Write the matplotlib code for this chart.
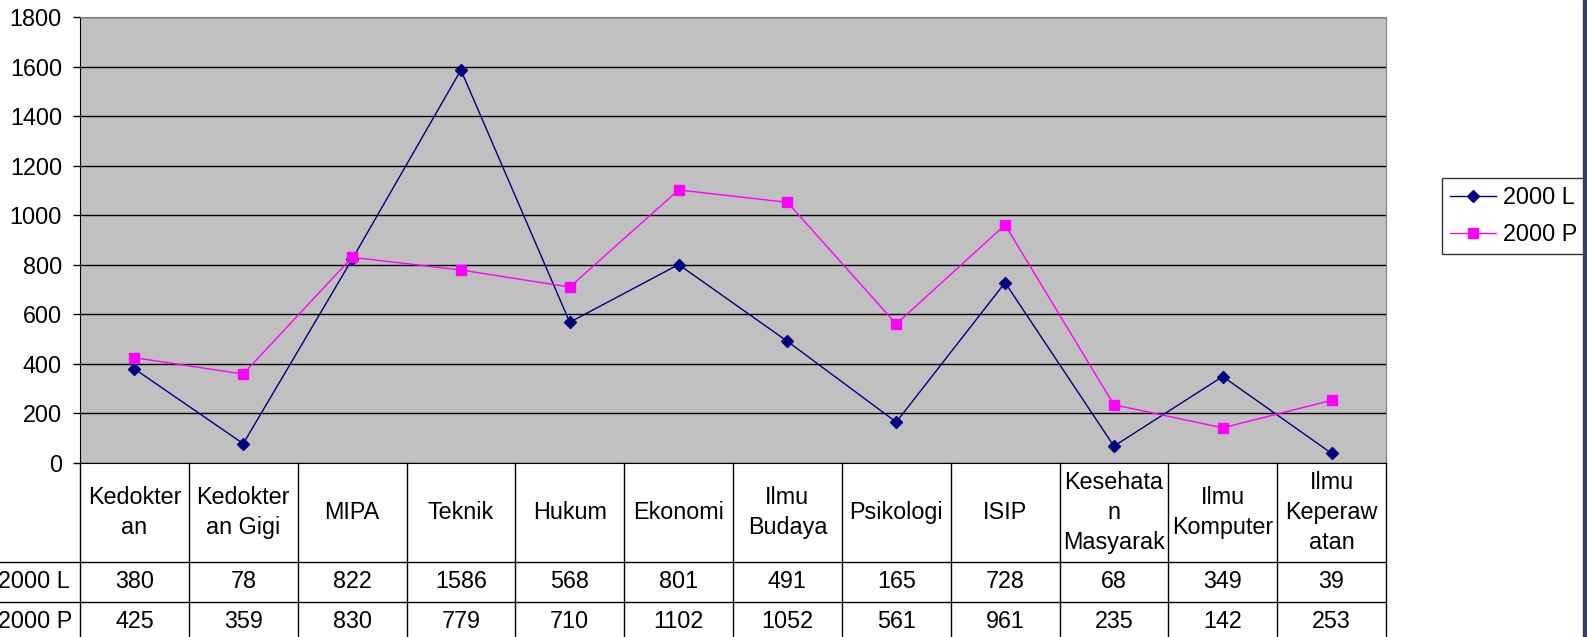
import matplotlib
matplotlib.use("Agg")
import matplotlib.pyplot as plt
from matplotlib.patches import Rectangle

plt.rcParams["font.family"] = ["Liberation Sans", "DejaVu Sans"]

# ---- data ---------------------------------------------------------------
categories = [
    "Kedokter\nan", "Kedokter\nan Gigi", "MIPA", "Teknik", "Hukum", "Ekonomi",
    "Ilmu\nBudaya", "Psikologi", "ISIP", "Kesehata\nn\nMasyarak",
    "Ilmu\nKomputer", "Ilmu\nKeperaw\natan",
]
series_names = ["2000 L", "2000 P"]
values_l = [380, 78, 822, 1586, 568, 801, 491, 165, 728, 68, 349, 39]
values_p = [425, 359, 830, 779, 710, 1102, 1052, 561, 961, 235, 142, 253]
yticks = [0, 200, 400, 600, 800, 1000, 1200, 1400, 1600, 1800]

# ---- layout (pixels) ----------------------------------------------------
W, H = 1587, 637
LEFT, RIGHT, TOP, ZERO = 80, 1386, 17, 463
HEAD_H, ROW_H = 99, 40
FS = 16.8
n = len(categories)
colw = (RIGHT - LEFT) / n

fig = plt.figure(figsize=(W / 100, H / 100), dpi=100)

ax = fig.add_axes([LEFT / W, 1 - ZERO / H, (RIGHT - LEFT) / W, (ZERO - TOP) / H])
ax.set_facecolor("#C0C0C0")
x = list(range(n))
ax.plot(x, values_l, color="#000080", lw=1.0, marker="D", ms=6.5, label=series_names[0])
ax.plot(x, values_p, color="#FF00FF", lw=1.0, marker="s", ms=6.5, label=series_names[1])
ax.set_xlim(-0.5, n - 0.5)
ax.set_ylim(0, 1800)
ax.set_yticks(yticks)
ax.set_yticklabels([str(v) for v in yticks], fontsize=FS)
ax.set_xticks([])
ax.yaxis.grid(True, color="black", lw=1.0)
ax.set_axisbelow(True)
ax.tick_params(axis="y", direction="out", length=5, width=1, pad=8)
for side in ("top", "right"):
    ax.spines[side].set_color("#808080")
for side in ("left", "bottom"):
    ax.spines[side].set_color("black")

# ---- data table ---------------------------------------------------------
tab = fig.add_axes([0, 0, RIGHT / W, (H - ZERO) / H])
x0 = -0.5 - LEFT / colw
tab.set_xlim(x0, n - 0.5)
tab.set_ylim(H - ZERO, 0)
tab.axis("off")

bottom = HEAD_H + 2 * ROW_H
for i in range(n + 1):
    tab.plot([i - 0.5, i - 0.5], [0, bottom], color="black", lw=1.0, clip_on=False)
for yy in (HEAD_H, HEAD_H + ROW_H, bottom):
    tab.plot([x0, n - 0.5], [yy, yy], color="black", lw=1.0, clip_on=False)

for i, cat in enumerate(categories):
    tab.text(i, HEAD_H / 2, cat, ha="center", va="center", fontsize=FS, linespacing=1.38)
    tab.text(i, HEAD_H + ROW_H / 2, str(values_l[i]), ha="center", va="center", fontsize=FS)
    tab.text(i, HEAD_H + ROW_H * 1.5, str(values_p[i]), ha="center", va="center", fontsize=FS)

for k, name in enumerate(series_names):
    tab.text(x0 - 2 / colw, HEAD_H + ROW_H * (k + 0.5), name,
             ha="left", va="center", fontsize=FS, clip_on=False)

# ---- legend -------------------------------------------------------------
leg = fig.legend(loc="upper left", bbox_to_anchor=(1442 / W, 1 - 178 / H),
                 borderaxespad=0, fontsize=FS, fancybox=False, frameon=True,
                 handlelength=1.95, handletextpad=0.3, borderpad=0.35,
                 labelspacing=0.6)
leg.get_frame().set_edgecolor("black")
leg.get_frame().set_linewidth(1.0)

# dark strip at right edge of the screenshot
fig.patches.append(Rectangle((1583 / W, 0), 4 / W, 1, transform=fig.transFigure,
                             color="#3c3e5e", zorder=10))

fig.savefig("out.png", dpi=100)
